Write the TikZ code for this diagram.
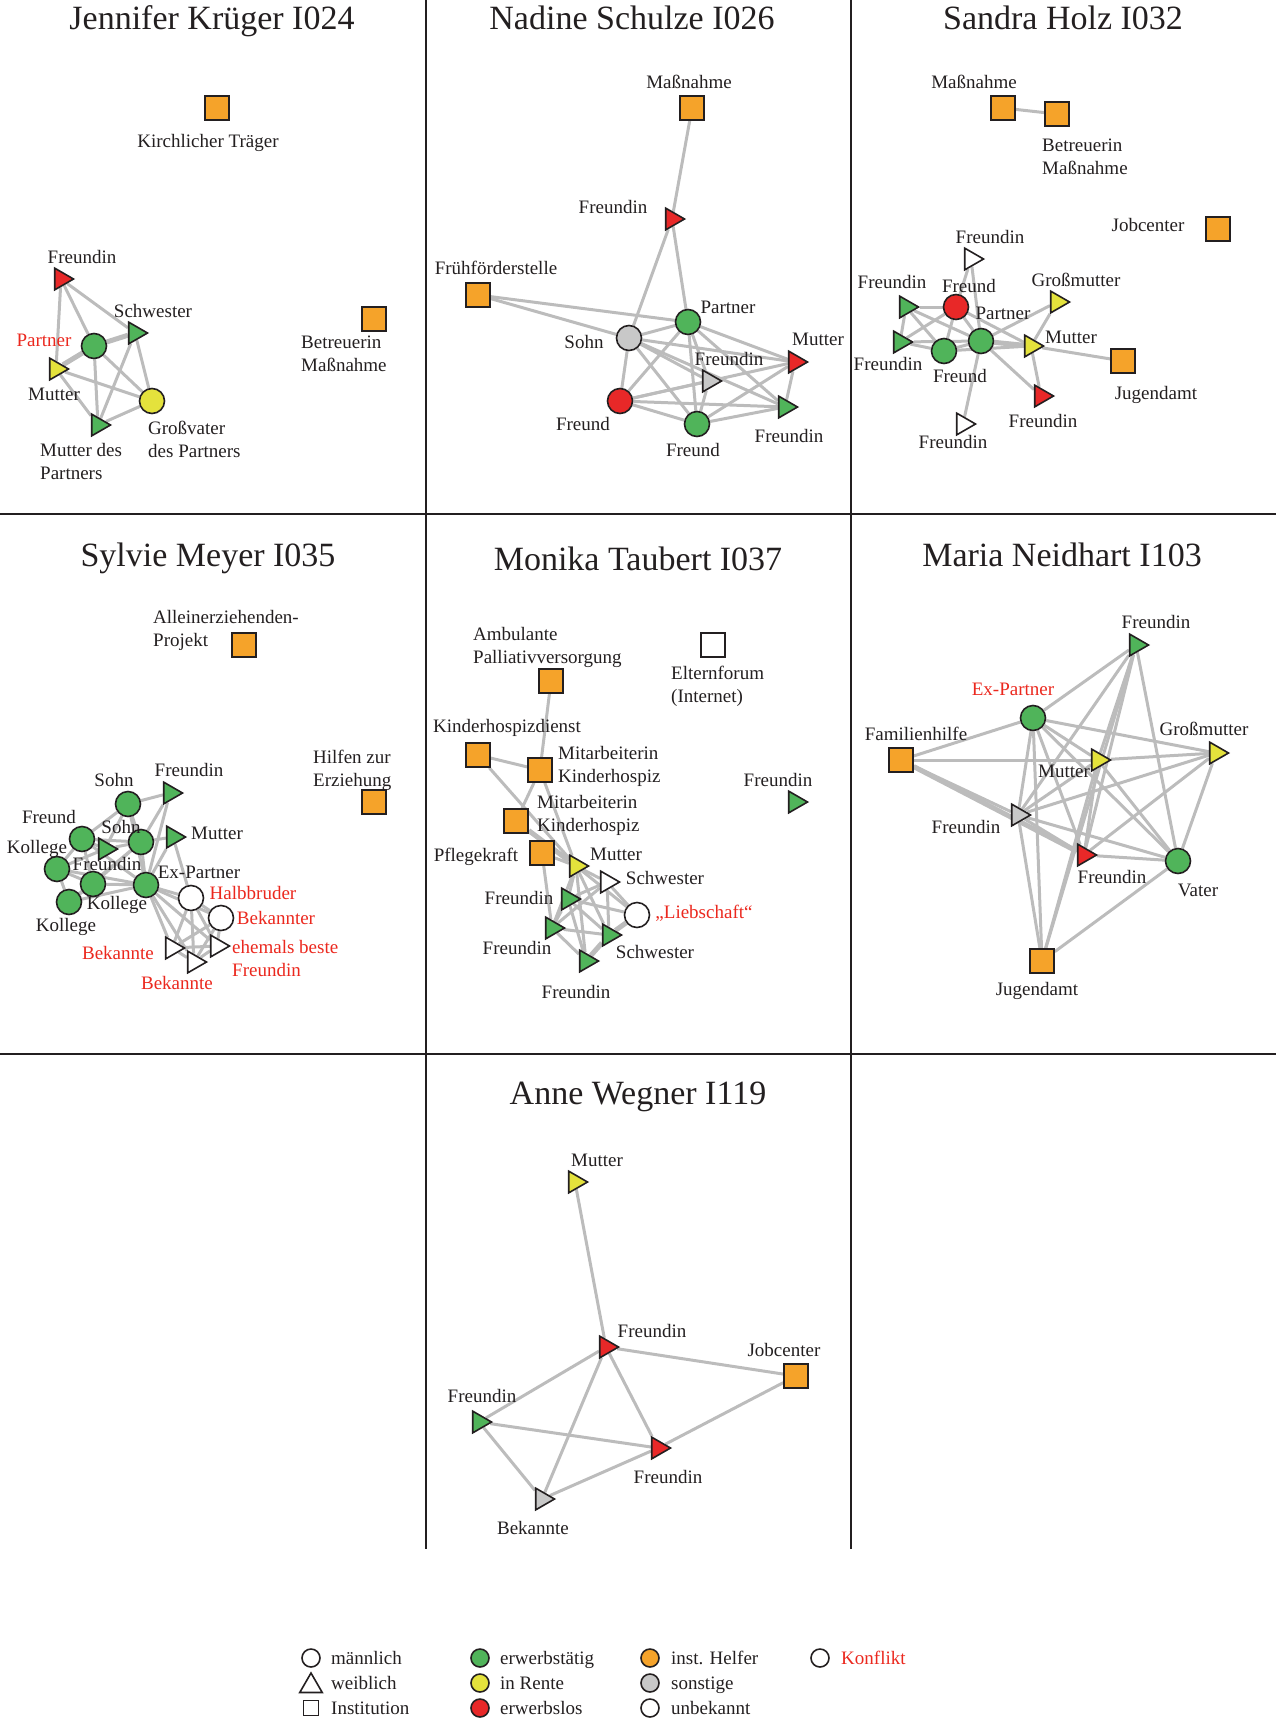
\documentclass[tikz,border=0pt]{standalone}
\usepackage{fontspec}
\setmainfont{Liberation Serif}
\usetikzlibrary{shapes.geometric,backgrounds}
\definecolor{cg}{RGB}{80,180,90}
\definecolor{cr}{RGB}{232,40,40}
\definecolor{cy}{RGB}{228,226,60}
\definecolor{co}{RGB}{245,163,42}
\definecolor{cs}{RGB}{200,200,200}
\definecolor{ce}{RGB}{188,188,188}
\definecolor{tr}{RGB}{235,40,30}
\definecolor{tk}{RGB}{35,31,32}
\begin{document}
\begin{tikzpicture}[x=1pt,y=-1pt,
  nd/.style={draw=tk,line width=1.6pt,inner sep=0pt},
  circ/.style={nd,circle,minimum size=25pt},
  sq/.style={nd,rectangle,minimum size=24pt},
  tri/.style={nd,regular polygon,regular polygon sides=3,shape border rotate=270,minimum size=25pt,xshift=-3pt},
  lab/.style={anchor=base,yshift=-6pt,inner sep=0pt,text=tk,font=\fontsize{19}{23}\selectfont},
  labm/.style={anchor=base west,yshift=-29pt,inner sep=0pt,text=tk,align=left,font=\fontsize{19}{23}\selectfont},
  ttl/.style={anchor=base,inner sep=0pt,text=tk,font=\fontsize{34}{40}\selectfont},
  edge/.style={draw=ce,line width=3pt},
  edgeT/.style={draw=ce,line width=5pt},
  div/.style={draw=tk,line width=2pt},
  lgc/.style={nd,circle,minimum size=18pt},
  legt/.style={anchor=base west,yshift=-6pt,inner sep=0pt,text=tk,font=\fontsize{19}{23}\selectfont}]
\useasboundingbox (0,0) rectangle (1276,1722);
% dividers
\draw[div] (425.5,0) -- (425.5,1549);
\draw[div] (851,0) -- (851,1549);
\draw[div] (0,514) -- (1276,514);
\draw[div] (0,1054) -- (1276,1054);

% ---------------- Panel 1
\node[ttl] (t1) at (212,29) {Jennifer Krüger I024};
\node[sq,fill=co] (k1) at (217,108) {};
\node[lab] (k1l) at (208,141) {Kirchlicher Träger};
\node[sq,fill=co] (b1) at (374,319) {};
\node[labm] (b1l) at (301,342) {Betreuerin\\Maßnahme};
\node[tri,fill=cr] (f1) at (64,279) {};
\node[lab] (f1l) at (82,257) {Freundin};
\node[tri,fill=cg] (s1) at (138,333) {};
\node[lab] (s1l) at (153,311) {Schwester};
\node[circ,fill=cg] (p1) at (94,346) {};
\node[lab,text=tr] (p1l) at (44,340) {Partner};
\node[tri,fill=cy] (m1) at (59,369) {};
\node[lab] (m1l) at (54,394) {Mutter};
\node[circ,fill=cy] (g1) at (152,401) {};
\node[labm] (g1l) at (148,428) {Großvater\\des Partners};
\node[tri,fill=cg] (mp1) at (101,425) {};
\node[labm] (mp1l) at (40,450) {Mutter des\\Partners};
\begin{pgfonlayer}{background}
\foreach \a/\b in {f1/p1,f1/s1,f1/m1,p1/g1,p1/mp1,s1/mp1,s1/g1,m1/g1,m1/mp1,mp1/g1}
  \draw[edge] (\a) -- (\b);
\draw[edgeT] (p1) -- (s1);
\draw[edgeT] (p1) -- (m1);
\end{pgfonlayer}

% ---------------- Panel 2
\node[ttl] (t2) at (632,29) {Nadine Schulze I026};
\node[sq,fill=co] (ma2) at (692,108) {};
\node[lab] (ma2l) at (689,82) {Maßnahme};
\node[tri,fill=cr] (fr2) at (675,219) {};
\node[lab] (fr2l) at (613,207) {Freundin};
\node[sq,fill=co] (ff2) at (478,295) {};
\node[lab] (ff2l) at (496,268) {Frühförderstelle};
\node[circ,fill=cg] (pa2) at (688,322) {};
\node[lab] (pa2l) at (728,307) {Partner};
\node[circ,fill=cs] (so2) at (629,338) {};
\node[lab] (so2l) at (584,342) {Sohn};
\node[tri,fill=cr] (mu2) at (798,362) {};
\node[lab] (mu2l) at (818,339) {Mutter};
\node[tri,fill=cs] (fg2) at (712,381) {};
\node[lab] (fg2l) at (729,359) {Freundin};
\node[circ,fill=cr] (fd2) at (620,401) {};
\node[lab] (fd2l) at (583,424) {Freund};
\node[tri,fill=cg] (fn2) at (788,407) {};
\node[lab] (fn2l) at (789,436) {Freundin};
\node[circ,fill=cg] (fe2) at (697,424) {};
\node[lab] (fe2l) at (693,450) {Freund};
\begin{pgfonlayer}{background}
\foreach \a/\b in {ma2/fr2,fr2/so2,fr2/pa2,ff2/pa2,ff2/so2,so2/pa2,so2/mu2,so2/fg2,so2/fn2,so2/fd2,so2/fe2,
  pa2/mu2,pa2/fn2,pa2/fd2,pa2/fe2,pa2/fg2,fd2/fg2,fd2/mu2,fd2/fn2,fd2/fe2,fe2/fg2,fe2/mu2,fe2/fn2,mu2/fn2}
  \draw[edge] (\a) -- (\b);
\end{pgfonlayer}

% ---------------- Panel 3
\node[ttl] (t3) at (1063,29) {Sandra Holz I032};
\node[sq,fill=co] (ma3) at (1003,108) {};
\node[lab] (ma3l) at (974,82) {Maßnahme};
\node[sq,fill=co] (bm3) at (1057,114) {};
\node[labm] (bm3l) at (1042,145) {Betreuerin\\Maßnahme};
\node[sq,fill=co] (jc3) at (1218,229) {};
\node[lab] (jc3l) at (1148,225) {Jobcenter};
\node[tri,fill=white] (fw3) at (974,259) {};
\node[lab] (fw3l) at (990,237) {Freundin};
\node[tri,fill=cg] (fl3) at (909,307) {};
\node[lab] (fl3l) at (892,282) {Freundin};
\node[circ,fill=cr] (fd3) at (956,307) {};
\node[tri,fill=cy] (gm3) at (1060,302) {};
\node[lab] (gm3l) at (1076,280) {Großmutter};
\node[tri,fill=cy] (mu3) at (1034,346) {};
\node[tri,fill=cg] (fb3) at (903,342) {};
\node[lab] (fb3l) at (888,364) {Freundin};
\node[circ,fill=cg] (fe3) at (944,351) {};
\node[lab] (fe3l) at (960,376) {Freund};
\node[circ,fill=cg] (pa3) at (981,341) {};
\node[lab] (fd3l) at (969,286) {Freund};
\node[lab] (pa3l) at (1003,313) {Partner};
\node[lab] (mu3l) at (1071,337) {Mutter};
\node[sq,fill=co] (ja3) at (1123,361) {};
\node[lab] (ja3l) at (1156,393) {Jugendamt};
\node[tri,fill=cr] (fr3) at (1044,396) {};
\node[lab] (fr3l) at (1043,421) {Freundin};
\node[tri,fill=white] (fx3) at (966,424) {};
\node[lab] (fx3l) at (953,442) {Freundin};
\begin{pgfonlayer}{background}
\foreach \a/\b in {ma3/bm3,fw3/pa3,fw3/fd3,fl3/fd3,fl3/fb3,fl3/pa3,fl3/fe3,fd3/fb3,fd3/fe3,fd3/mu3,fd3/pa3,
  pa3/gm3,pa3/fr3,pa3/fx3,pa3/fb3,fe3/fb3,fe3/pa3,fe3/mu3,gm3/mu3,mu3/ja3,mu3/fr3}
  \draw[edge] (\a) -- (\b);
\draw[edgeT] (pa3) -- (mu3);
\end{pgfonlayer}

% ---------------- Panel 4
\node[ttl] (t4) at (208,566) {Sylvie Meyer I035};
\node[sq,fill=co] (al4) at (244,645) {};
\node[labm] (al4l) at (153,617) {Alleinerziehenden-\\Projekt};
\node[sq,fill=co] (hz4) at (374,802) {};
\node[labm] (hz4l) at (313,757) {Hilfen zur\\Erziehung};
\node[circ,fill=cg] (soa4) at (128,804) {};
\node[lab] (soa4l) at (114,780) {Sohn};
\node[tri,fill=cg] (fr4) at (173,793) {};
\node[lab] (fr4l) at (189,770) {Freundin};
\node[circ,fill=cg] (fd4) at (82,839) {};
\node[lab] (fd4l) at (49,817) {Freund};
\node[tri,fill=cg] (fi4) at (108,849) {};
\node[circ,fill=cg] (sob4) at (141,842) {};
\node[lab] (sob4l) at (121,827) {Sohn};
\node[lab] (fi4l) at (107,864) {Freundin};
\node[tri,fill=cg] (mu4) at (176,837) {};
\node[lab] (mu4l) at (217,833) {Mutter};
\node[circ,fill=cg] (koa4) at (57,869) {};
\node[lab] (koa4l) at (37,847) {Kollege};
\node[circ,fill=cg] (kob4) at (93,884) {};
\node[circ,fill=cg] (ex4) at (146,885) {};
\node[lab] (ex4l) at (199,872) {Ex-Partner};
\node[circ,fill=cg] (koc4) at (69,902) {};
\node[lab] (kob4l) at (117,903) {Kollege};
\node[lab] (koc4l) at (66,925) {Kollege};
\node[circ,fill=white] (hb4) at (191,898) {};
\node[lab,text=tr] (hb4l) at (253,893) {Halbbruder};
\node[circ,fill=white] (bk4) at (221,918) {};
\node[lab,text=tr] (bk4l) at (276,918) {Bekannter};
\node[tri,fill=white] (eb4) at (220,946) {};
\node[labm,text=tr] (eb4l) at (232,947) {ehemals beste\\Freundin};
\node[tri,fill=white] (ba4) at (175,948) {};
\node[lab,text=tr] (ba4l) at (118,953) {Bekannte};
\node[tri,fill=white] (bb4) at (197,962) {};
\node[lab,text=tr] (bb4l) at (177,983) {Bekannte};
\begin{pgfonlayer}{background}
\foreach \a/\b in {soa4/fr4,soa4/sob4,soa4/fd4,soa4/ex4,soa4/fi4,fr4/sob4,fr4/ex4,fd4/sob4,fd4/koa4,fd4/kob4,fd4/ex4,fd4/fi4,
  sob4/mu4,sob4/ex4,sob4/kob4,sob4/fi4,mu4/ex4,mu4/hb4,koa4/kob4,koa4/ex4,koa4/koc4,kob4/ex4,kob4/koc4,koc4/ex4,koa4/fi4,koc4/sob4,
  ex4/hb4,ex4/bk4,ex4/eb4,ex4/ba4,ex4/bb4,hb4/bk4,hb4/eb4,hb4/ba4,hb4/bb4,bk4/eb4,bk4/ba4,bk4/bb4,ba4/bb4,eb4/bb4,ba4/eb4}
  \draw[edge] (\a) -- (\b);
\end{pgfonlayer}

% ---------------- Panel 5
\node[ttl] (t5) at (638,570) {Monika Taubert I037};
\node[sq,fill=co] (am5) at (551,681) {};
\node[labm] (am5l) at (473,634) {Ambulante\\Palliativversorgung};
\node[sq,fill=white] (el5) at (713,645) {};
\node[labm] (el5l) at (671,673) {Elternforum\\(Internet)};
\node[sq,fill=co] (kd5) at (478,755) {};
\node[lab] (kd5l) at (507,726) {Kinderhospizdienst};
\node[sq,fill=co] (mka5) at (540,770) {};
\node[labm] (mka5l) at (558,753) {Mitarbeiterin\\Kinderhospiz};
\node[sq,fill=co] (mkb5) at (516,821) {};
\node[labm] (mkb5l) at (537,802) {Mitarbeiterin\\Kinderhospiz};
\node[sq,fill=co] (pf5) at (542,853) {};
\node[lab] (pf5l) at (476,855) {Pflegekraft};
\node[tri,fill=cg] (fi5) at (798,802) {};
\node[lab] (fi5l) at (778,780) {Freundin};
\node[tri,fill=cy] (mu5) at (579,866) {};
\node[lab] (mu5l) at (616,854) {Mutter};
\node[tri,fill=white] (sw5) at (610,882) {};
\node[lab] (sw5l) at (665,878) {Schwester};
\node[tri,fill=cg] (fa5) at (571,899) {};
\node[lab] (fa5l) at (519,898) {Freundin};
\node[circ,fill=white] (li5) at (637,915) {};
\node[lab,text=tr] (li5l) at (704,912) {„Liebschaft“};
\node[tri,fill=cg] (fb5) at (555,928) {};
\node[lab] (fb5l) at (517,948) {Freundin};
\node[tri,fill=cg] (sg5) at (612,935) {};
\node[lab] (sg5l) at (655,952) {Schwester};
\node[tri,fill=cg] (fc5) at (589,961) {};
\node[lab] (fc5l) at (576,992) {Freundin};
\begin{pgfonlayer}{background}
\foreach \a/\b in {am5/mka5,kd5/mka5,kd5/mu5,mka5/mkb5,mka5/mu5,pf5/mu5,pf5/fb5,mu5/sw5,mu5/fa5,mu5/li5,mu5/fb5,mu5/sg5,mu5/fc5,
  sw5/fa5,sw5/li5,sw5/fb5,sw5/sg5,fa5/li5,fa5/fb5,fa5/sg5,fa5/fc5,fb5/sg5,fb5/fc5}
  \draw[edge] (\a) -- (\b);
\draw[edgeT] (mkb5) -- (mu5);
\draw[edgeT] (li5) -- (sg5);
\draw[edgeT] (sg5) -- (fc5);
\end{pgfonlayer}

% ---------------- Panel 6
\node[ttl] (t6) at (1062,566) {Maria Neidhart I103};
\node[tri,fill=cg] (ft6) at (1139,645) {};
\node[lab] (ft6l) at (1156,622) {Freundin};
\node[circ,fill=cg] (ex6) at (1033,718) {};
\node[lab,text=tr] (ex6l) at (1013,689) {Ex-Partner};
\node[sq,fill=co] (fh6) at (901,760) {};
\node[lab] (fh6l) at (916,734) {Familienhilfe};
\node[tri,fill=cy] (mu6) at (1101,760) {};
\node[lab] (mu6l) at (1064,771) {Mutter};
\node[tri,fill=cy] (gm6) at (1219,753) {};
\node[lab] (gm6l) at (1204,729) {Großmutter};
\node[tri,fill=cs] (fg6) at (1021,815) {};
\node[lab] (fg6l) at (966,827) {Freundin};
\node[tri,fill=cr] (fr6) at (1087,855) {};
\node[lab] (fr6l) at (1112,877) {Freundin};
\node[circ,fill=cg] (va6) at (1178,861) {};
\node[lab] (va6l) at (1198,890) {Vater};
\node[sq,fill=co] (ja6) at (1042,961) {};
\node[lab] (ja6l) at (1037,989) {Jugendamt};
\begin{pgfonlayer}{background}
\foreach \a/\b in {fh6/ex6,fh6/mu6,fh6/fg6,ex6/ft6,ex6/gm6,ex6/mu6,ex6/fg6,ex6/fr6,ex6/va6,ex6/ja6,
  ft6/fg6,ft6/mu6,ft6/fr6,ft6/va6,ft6/ja6,mu6/gm6,mu6/fg6,mu6/fr6,mu6/va6,mu6/ja6,gm6/fg6,gm6/fr6,gm6/va6,
  fg6/fr6,fg6/va6,fg6/ja6,fr6/va6,va6/ja6}
  \draw[edge] (\a) -- (\b);
\draw[edgeT] (fh6) -- (fr6);
\end{pgfonlayer}

% ---------------- Panel 7
\node[ttl] (t7) at (638,1104) {Anne Wegner I119};
\node[tri,fill=cy] (mu7) at (578,1182) {};
\node[lab] (mu7l) at (597,1160) {Mutter};
\node[tri,fill=cr] (ft7) at (609,1347) {};
\node[lab] (ft7l) at (652,1331) {Freundin};
\node[sq,fill=co] (jc7) at (796,1376) {};
\node[lab] (jc7l) at (784,1350) {Jobcenter};
\node[tri,fill=cg] (fg7) at (482,1422) {};
\node[lab] (fg7l) at (482,1396) {Freundin};
\node[tri,fill=cr] (fr7) at (661,1448) {};
\node[lab] (fr7l) at (668,1477) {Freundin};
\node[tri,fill=cs] (bk7) at (545,1499) {};
\node[lab] (bk7l) at (533,1528) {Bekannte};
\begin{pgfonlayer}{background}
\foreach \a/\b in {mu7/ft7,ft7/jc7,ft7/fg7,ft7/bk7,ft7/fr7,fg7/fr7,fg7/bk7,bk7/fr7,fr7/jc7}
  \draw[edge] (\a) -- (\b);
\end{pgfonlayer}

% ---------------- Legend
\node[lgc,fill=white] (lg1) at (311,1658) {};
\node[legt] (lg1t) at (331,1658) {männlich};
\node[nd,regular polygon,regular polygon sides=3,minimum size=26pt,fill=white] (lg2) at (311,1686) {};
\node[legt] (lg2t) at (331,1683) {weiblich};
\node[nd,rectangle,minimum size=15pt,fill=white] (lg3) at (311,1708) {};
\node[legt] (lg3t) at (331,1708) {Institution};
\node[lgc,fill=cg] (lg4) at (480,1658) {};
\node[legt] (lg4t) at (500,1658) {erwerbstätig};
\node[lgc,fill=cy] (lg5) at (480,1683) {};
\node[legt] (lg5t) at (500,1683) {in Rente};
\node[lgc,fill=cr] (lg6) at (480,1708) {};
\node[legt] (lg6t) at (500,1708) {erwerbslos};
\node[lgc,fill=co] (lg7) at (650,1658) {};
\node[legt] (lg7t) at (671,1658) {inst. Helfer};
\node[lgc,fill=cs] (lg8) at (650,1683) {};
\node[legt] (lg8t) at (671,1683) {sonstige};
\node[lgc,fill=white] (lg9) at (650,1708) {};
\node[legt] (lg9t) at (671,1708) {unbekannt};
\node[lgc,fill=white] (lg10) at (820,1658) {};
\node[legt,text=tr] (lg10t) at (841,1658) {Konflikt};
\end{tikzpicture}
\end{document}
